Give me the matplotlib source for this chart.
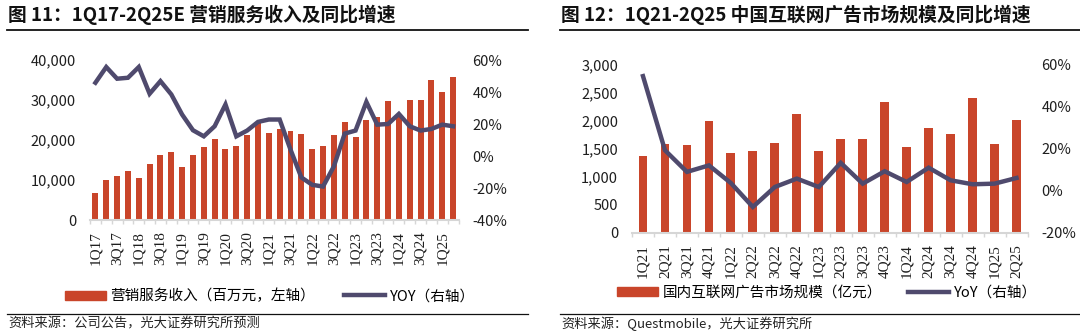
import matplotlib
matplotlib.use('Agg')
import matplotlib.pyplot as plt
from matplotlib.lines import Line2D
from matplotlib.patches import Patch
from matplotlib.ticker import FuncFormatter, FixedLocator
import numpy as np

plt.rcParams['font.family'] = ['Noto Sans CJK SC', 'DejaVu Sans']

# 图11 营销服务收入（百万元）及 YOY
q_left = ['1Q17', '2Q17', '3Q17', '4Q17', '1Q18', '2Q18', '3Q18', '4Q18',
          '1Q19', '2Q19', '3Q19', '4Q19', '1Q20', '2Q20', '3Q20', '4Q20',
          '1Q21', '2Q21', '3Q21', '4Q21', '1Q22', '2Q22', '3Q22', '4Q22',
          '1Q23', '2Q23', '3Q23', '4Q23', '1Q24', '2Q24', '3Q24', '4Q24',
          '1Q25', '2Q25']
rev_left = [6700, 10000, 10900, 12300, 10500, 14000, 16200, 17000,
            13300, 16300, 18300, 20200, 17700, 18500, 21300, 24400,
            21800, 22800, 22300, 21400, 17800, 18500, 21300, 24500,
            20800, 24900, 25700, 29700, 26000, 29900, 30000, 35000,
            31900, 35700]
yoy_left = [45.8, 55.6, 48.3, 48.9, 55.6, 38.9, 46.8, 38.5,
            25.9, 16.1, 12.3, 18.6, 32.2, 12.3, 15.9, 21.3,
            22.8, 22.8, 4.0, -13.4, -18.0, -19.1, -6.5, 14.0,
            15.9, 33.8, 19.6, 20.0, 26.3, 18.6, 15.9, 16.9,
            19.6, 18.6]

# 图12 国内互联网广告市场规模（亿元）及 YoY
q_right = ['1Q21', '2Q21', '3Q21', '4Q21', '1Q22', '2Q22', '3Q22', '4Q22',
           '1Q23', '2Q23', '3Q23', '4Q23', '1Q24', '2Q24', '3Q24', '4Q24',
           '1Q25', '2Q25']
ad_right = [1372, 1592, 1580, 1998, 1425, 1473, 1610, 2123,
            1461, 1676, 1670, 2332, 1527, 1872, 1759, 2415,
            1586, 2010]
yoy_right = [54.7, 19.4, 9.1, 12.2, 3.8, -7.6, 1.9, 5.9,
             1.9, 13.4, 3.5, 9.4, 4.3, 11.1, 5.1, 3.2,
             3.5, 6.2]

BAR_C = '#C9452A'
LINE_C = '#4F4A6D'
TXT_C = '#1E1E1E'
W, H = 1080, 336

fig = plt.figure(figsize=(W / 100, H / 100), dpi=100)


def fx(px):
    return px / W


def fy(py):
    return 1 - py / H


def draw_panel(left, right, top, bottom, cats, bars, yoy, bar_w,
               ylim1, yticks1, ylim2, yticks2, label_step):
    ax = fig.add_axes([fx(left), fy(bottom), fx(right - left), (bottom - top) / H])
    x = np.arange(len(cats))
    ax.bar(x, bars, width=bar_w, color=BAR_C, zorder=2)
    ax.set_xlim(-0.5, len(cats) - 0.5)
    ax.set_ylim(*ylim1)
    ax.set_yticks(yticks1)
    ax.yaxis.set_major_formatter(FuncFormatter(lambda v, p: f'{int(v):,}'))
    for s in ['top', 'right', 'left']:
        ax.spines[s].set_visible(False)
    ax.spines['bottom'].set_color('#D6D6D6')
    ax.spines['bottom'].set_linewidth(1.5)
    ax.tick_params(axis='y', length=0, pad=10, labelsize=10.5, labelcolor=TXT_C)
    ax.set_xticks(x[::label_step])
    ax.set_xticklabels(cats[::label_step], rotation=90, fontfamily='Liberation Serif',
                       fontsize=11, color=TXT_C)
    ax.xaxis.set_minor_locator(FixedLocator(np.arange(-0.5, len(cats), 1)))
    ax.tick_params(axis='x', which='major', length=0, pad=8)
    ax.tick_params(axis='x', which='minor', length=3, color='#D6D6D6', width=1)

    ax2 = ax.twinx()
    ax2.plot(x, np.array(yoy) / 100, color=LINE_C, lw=3.2, zorder=3,
             solid_joinstyle='miter')
    ax2.set_ylim(*ylim2)
    ax2.set_yticks(yticks2)
    ax2.yaxis.set_major_formatter(FuncFormatter(lambda v, p: f'{v * 100:.0f}%'))
    for s in ['top', 'right', 'left', 'bottom']:
        ax2.spines[s].set_visible(False)
    ax2.tick_params(axis='y', length=0, pad=10, labelsize=10.5, labelcolor=TXT_C)
    return ax, ax2


draw_panel(90, 458.5, 60, 220, q_left, rev_left, yoy_left, 0.55,
           (0, 40000), range(0, 40001, 10000), (-0.4, 0.6),
           np.arange(-0.4, 0.61, 0.2), 2)
draw_panel(632, 1027.5, 65, 233, q_right, ad_right, yoy_right, 0.4,
           (0, 3000), range(0, 3001, 500), (-0.2, 0.6),
           np.arange(-0.2, 0.61, 0.2), 1)

# 标题、分隔线、来源
fig.text(fx(8), fy(15), '图 11：1Q17-2Q25E 营销服务收入及同比增速', fontsize=13.5,
         fontweight='bold', va='center', ha='left', color='#111111')
fig.text(fx(561), fy(15), '图 12：1Q21-2Q25 中国互联网广告市场规模及同比增速', fontsize=13.5,
         fontweight='bold', va='center', ha='left', color='#111111')
for x0, x1 in [(7, 528), (560, 1080)]:
    fig.add_artist(Line2D([fx(x0), fx(x1)], [fy(30), fy(30)], color='#111111', lw=1.3))
    fig.add_artist(Line2D([fx(x0), fx(x1)], [fy(314), fy(314)], color='#111111', lw=0.9))
fig.text(fx(8), fy(324), '资料来源：公司公告，光大证券研究所预测', fontsize=9.5,
         va='center', ha='left', color='#222222')
fig.text(fx(561), fy(324), '资料来源：Questmobile，光大证券研究所', fontsize=9.5,
         va='center', ha='left', color='#222222')

# 图例
h_bar = Patch(color=BAR_C)
h_line = Line2D([], [], color=LINE_C, lw=3.2)
fig.legend([h_bar, h_line], ['营销服务收入（百万元，左轴）', 'YOY（右轴）'],
           loc='center', bbox_to_anchor=(fx(270), fy(296)), ncol=2, frameon=False,
           fontsize=10.5, handlelength=2.8, handleheight=0.55, handletextpad=0.3,
           columnspacing=2.0, borderpad=0)
fig.legend([h_bar, h_line], ['国内互联网广告市场规模（亿元）', 'YoY（右轴）'],
           loc='center', bbox_to_anchor=(fx(827), fy(293)), ncol=2, frameon=False,
           fontsize=10.5, handlelength=2.8, handleheight=0.55, handletextpad=0.3,
           columnspacing=1.8, borderpad=0)

fig.savefig('out.png', dpi=100)
